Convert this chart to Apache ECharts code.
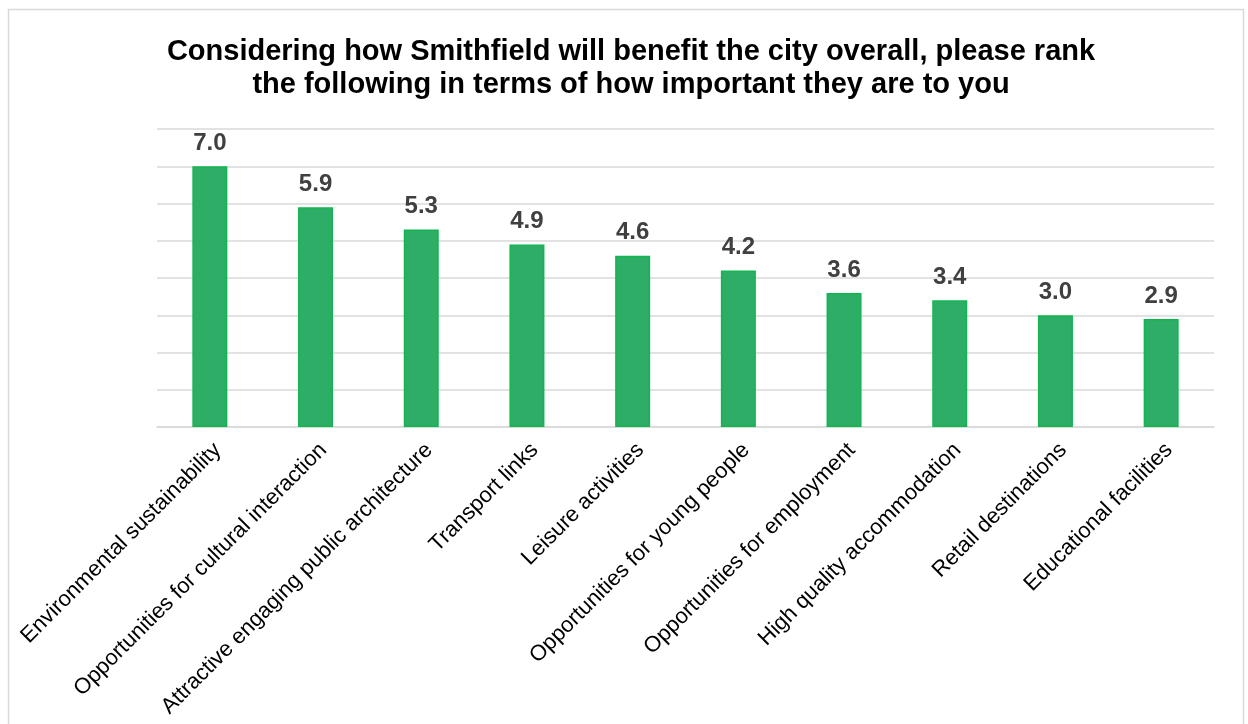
<!DOCTYPE html>
<html>
<head>
<meta charset="utf-8">
<script src="https://cdn.jsdelivr.net/npm/echarts@6/dist/echarts.min.js"></script>
<style>
  html, body { margin: 0; padding: 0; background: #ffffff; }
  #chart { width: 1248px; height: 724px; }
</style>
</head>
<body>
<div id="chart"></div>
<script>
// Survey results: average ranking score per benefit
const categories = [
  'Environmental sustainability',
  'Opportunities for cultural interaction',
  'Attractive engaging public architecture',
  'Transport links',
  'Leisure activities',
  'Opportunities for young people',
  'Opportunities for employment',
  'High quality accommodation',
  'Retail destinations',
  'Educational facilities'
];
const scores = [7.0, 5.9, 5.3, 4.9, 4.6, 4.2, 3.6, 3.4, 3.0, 2.9];
const titleText = 'Considering how Smithfield will benefit the city overall, please rank\nthe following in terms of how important they are to you';

const chart = echarts.init(document.getElementById('chart'), null, { renderer: 'canvas' });
chart.setOption({
  backgroundColor: '#ffffff',
  animation: false,
  textStyle: { fontFamily: 'Liberation Sans, Arial, sans-serif' },
  graphic: [{
    type: 'rect',
    shape: { x: 8.5, y: 9.5, width: 1235, height: 730 },
    style: { fill: 'none', stroke: '#d9d9d9', lineWidth: 1.5 },
    silent: true
  }],
  title: {
    text: titleText,
    left: 626,
    top: 30,
    textAlign: 'center',
    textStyle: {
      fontFamily: 'Liberation Sans, Arial, sans-serif',
      fontSize: 29,
      fontWeight: 'bold',
      color: '#000000',
      lineHeight: 33
    }
  },
  grid: { left: 157, right: 34, top: 129, bottom: 297 },
  xAxis: {
    type: 'category',
    data: categories,
    axisLine: { show: true, lineStyle: { color: '#d9d9d9', width: 1.5 } },
    axisTick: { show: false },
    axisLabel: {
      rotate: 45,
      interval: 0,
      margin: 12,
      verticalAlign: 'top',
      fontSize: 22,
      color: '#000000',
      fontFamily: 'Liberation Sans, Arial, sans-serif'
    }
  },
  yAxis: {
    type: 'value',
    min: 0,
    max: 8,
    interval: 1,
    axisLine: { show: false },
    axisTick: { show: false },
    axisLabel: { show: false },
    splitLine: { lineStyle: { color: '#d9d9d9', width: 1.5 } }
  },
  series: [{
    type: 'bar',
    data: scores,
    barWidth: 35,
    itemStyle: { color: '#2EAD67', borderColor: '#12B650', borderWidth: 1.5 },
    label: {
      show: true,
      position: 'top',
      distance: 11,
      formatter: p => p.value.toFixed(1),
      fontSize: 24,
      fontWeight: 'bold',
      color: '#404040',
      fontFamily: 'Liberation Sans, Arial, sans-serif'
    }
  }]
});
</script>
</body>
</html>
